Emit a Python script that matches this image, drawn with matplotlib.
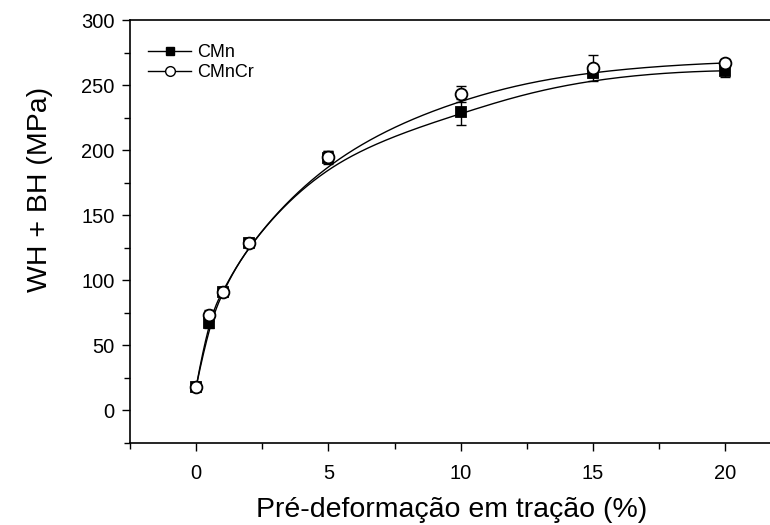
import numpy as np
import matplotlib
matplotlib.use("Agg")
import matplotlib.pyplot as plt
from matplotlib.ticker import MultipleLocator

plt.rcParams['font.family'] = ['Liberation Sans', 'DejaVu Sans']

strain = [0, 0.5, 1, 2, 5, 10, 15, 20]
cmn = [18, 67, 91, 129, 194, 229, 259, 261]
cmn_err = [3, 4, 3, 3, 5, 10, 3, 5]
cmncr = [18, 73, 91, 129, 195, 243, 263, 267]
cmncr_err = [3, 4, 3, 3, 4, 6, 10, 3]


def bspline(x, y, k=3, n=600):
    """Clamped cubic B-spline using the data points as control points."""
    P = np.column_stack([x, y]).astype(float)
    m = len(P)
    inner = np.arange(1, m - k)
    knots = np.concatenate([np.zeros(k + 1), inner, np.full(k + 1, m - k)]).astype(float)
    ts = np.linspace(0, m - k, n)
    ts[-1] -= 1e-9

    def basis(i, d, t):
        if d == 0:
            return np.where((knots[i] <= t) & (t < knots[i + 1]), 1.0, 0.0)
        out = np.zeros_like(t)
        den1 = knots[i + d] - knots[i]
        den2 = knots[i + d + 1] - knots[i + 1]
        if den1 > 0:
            out += (t - knots[i]) / den1 * basis(i, d - 1, t)
        if den2 > 0:
            out += (knots[i + d + 1] - t) / den2 * basis(i + 1, d - 1, t)
        return out

    B = np.column_stack([basis(i, k, ts) for i in range(m)])
    C = B @ P
    return C[:, 0], C[:, 1]


fig = plt.figure(figsize=(7.7, 5.25), dpi=100)
ax = fig.add_axes([130 / 770, 1 - 443 / 525, 25 * 26.45 / 770, 423 / 525])

for yv, err, mk, fc in [(cmn, cmn_err, 's', 'black'),
                        (cmncr, cmncr_err, 'o', 'white')]:
    xs, ys = bspline(strain, yv)
    ax.plot(xs, ys, color='black', lw=1.0, zorder=2)
    ax.errorbar(strain, yv, yerr=err, fmt='none', ecolor='black', elinewidth=1,
                capsize=3.5, zorder=3)
    ax.plot(strain, yv, linestyle='none', marker=mk, ms=7 if mk == 's' else 8.5,
            mfc=fc, mec='black', mew=1.3, zorder=4)

h1 = plt.Line2D([], [], color='black', lw=1, marker='s', ms=6, mfc='black', mec='black')
h2 = plt.Line2D([], [], color='black', lw=1, marker='o', ms=7, mfc='white', mec='black')
ax.legend([h1, h2], ['CMn', 'CMnCr'], loc='upper left', bbox_to_anchor=(0.0, 0.985),
          frameon=False, fontsize=13, handlelength=2.4, handletextpad=0.3,
          labelspacing=0.15, borderaxespad=0.6)

ax.set_xlim(-2.5, 22.5)
ax.set_ylim(-25, 300)
ax.xaxis.set_major_locator(MultipleLocator(5))
ax.xaxis.set_minor_locator(MultipleLocator(2.5))
ax.yaxis.set_major_locator(MultipleLocator(50))
ax.yaxis.set_minor_locator(MultipleLocator(25))
ax.tick_params(which='both', direction='out', top=False, right=False, labelsize=14.5)
ax.tick_params(which='major', length=6, width=1, pad=5)
ax.tick_params(which='minor', length=4, width=1)
ax.tick_params(axis='x', pad=9)
ax.set_xlabel('Pré-deformação em tração (%)', fontsize=20.5)
ax.xaxis.set_label_coords((452 - 130) / (25 * 26.45), -(510 - 443) / 423)
ax.set_ylabel('WH + BH (MPa)', fontsize=20.5)
ax.yaxis.set_label_coords(-(130 - 40) / (25 * 26.45), (443 - 189) / 423)
ax.xaxis.label.set_verticalalignment('center')
ax.yaxis.label.set_verticalalignment('center')
for s in ax.spines.values():
    s.set_linewidth(1.2)

fig.savefig('out.png', dpi=100)
